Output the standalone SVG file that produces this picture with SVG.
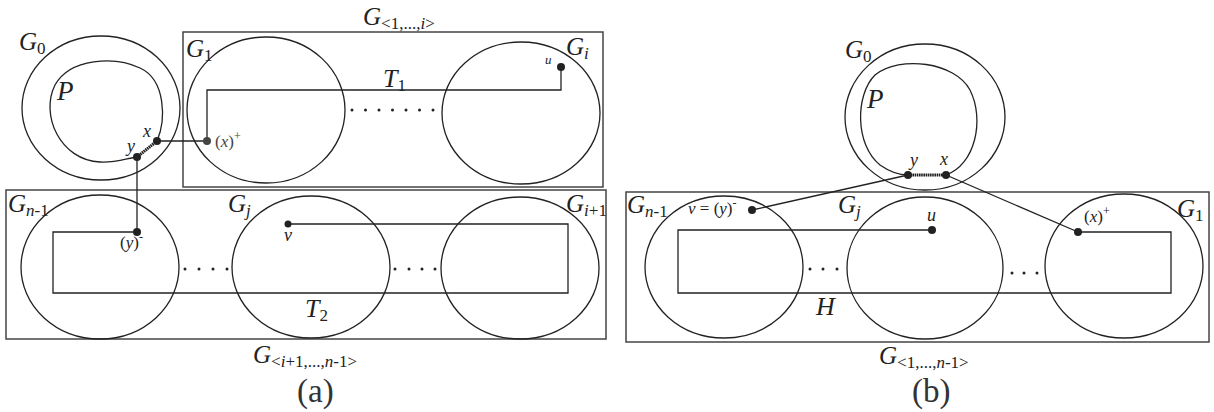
<svg xmlns="http://www.w3.org/2000/svg" width="1214" height="412" viewBox="0 0 1214 412">
<rect width="1214" height="412" fill="#fff"/>

<g id="nodes" fill="none" stroke="#222" stroke-width="1.3">
<!-- Panel (a) -->
<g id="a_box_top"><rect stroke="#444" stroke-width="1.5" x="183" y="32" width="420" height="155"/></g>
<g id="a_box_bottom"><rect stroke="#444" stroke-width="1.5" x="6" y="190" width="600" height="149"/></g>
<g id="a_G0"><ellipse cx="101" cy="108" rx="79" ry="72"/></g>
<g id="a_P"><path d="M157,141 C166,120 166,80 140,68 C115,56 70,58 55,85 C40,115 60,160 100,162 C115,163 128,158 137,157"/></g>
<g id="a_G1"><ellipse cx="266" cy="110" rx="79" ry="73"/></g>
<g id="a_Gi"><ellipse cx="521" cy="113" rx="79" ry="71"/></g>
<g id="a_Gn1"><ellipse cx="100" cy="267" rx="79" ry="72"/></g>
<g id="a_Gj"><ellipse cx="311" cy="267" rx="79" ry="71"/></g>
<g id="a_Gi1"><ellipse cx="520" cy="268" rx="79" ry="71"/></g>
<!-- Panel (b) -->
<g id="b_box"><rect stroke="#444" stroke-width="1.5" x="626" y="192" width="583" height="150"/></g>
<g id="b_G0"><ellipse cx="925" cy="117" rx="80" ry="73"/></g>
<g id="b_P"><path d="M946,175 C975,165 985,120 970,90 C955,62 900,55 875,75 C855,95 855,145 880,165 C890,172 900,175 908,175"/></g>
<g id="b_Gn1"><ellipse cx="724" cy="267" rx="79" ry="71"/></g>
<g id="b_Gj"><ellipse cx="925" cy="268" rx="78" ry="71"/></g>
<g id="b_G1"><ellipse cx="1124" cy="266" rx="79" ry="72"/></g>
</g>

<!-- Connectors -->
<g id="connectors" fill="none" stroke="#222" stroke-width="1.3">
<line x1="157" y1="141" x2="207" y2="141"/>
<line x1="137" y1="157" x2="137" y2="232"/>
<path d="M207,141 V90 H561 V67"/>
<path d="M137,232 H53 V293 H568 V224 H288"/>
<line stroke-width="3" stroke-dasharray="1.6 0.6" x1="157" y1="141" x2="137" y2="157"/>
<line x1="752" y1="210" x2="908" y2="175"/>
<line x1="946" y1="175" x2="1078" y2="232"/>
<path d="M932,230 H678 V293 H1171 V232 H1078"/>
<line stroke-width="3" stroke-dasharray="1.6 0.6" x1="908" y1="175" x2="946" y2="175"/>
</g>

<!-- Vertices -->
<g id="vertices" fill="#222">
<circle cx="157" cy="141" r="4"/>
<circle cx="137" cy="157" r="4"/>
<circle cx="207" cy="141" r="4" fill="#444"/>
<circle cx="561" cy="67" r="4"/>
<circle cx="137" cy="232" r="4"/>
<circle cx="288" cy="224" r="3.5"/>
<circle cx="908" cy="175" r="4"/>
<circle cx="946" cy="175" r="4"/>
<circle cx="752" cy="210" r="4"/>
<circle cx="932" cy="230" r="4"/>
<circle cx="1078" cy="232" r="4"/>
</g>

<!-- ellipsis dots -->
<g id="ellipses" fill="#222">
<circle cx="352" cy="110" r="1.5"/><circle cx="365.5" cy="110" r="1.5"/><circle cx="379" cy="110" r="1.5"/><circle cx="392.5" cy="110" r="1.5"/><circle cx="406" cy="110" r="1.5"/><circle cx="419.5" cy="110" r="1.5"/><circle cx="433" cy="110" r="1.5"/>
<circle cx="185" cy="269" r="1.5"/><circle cx="199" cy="269" r="1.5"/><circle cx="213" cy="269" r="1.5"/><circle cx="227" cy="269" r="1.5"/>
<circle cx="395" cy="269" r="1.5"/><circle cx="409" cy="269" r="1.5"/><circle cx="422" cy="269" r="1.5"/><circle cx="435" cy="269" r="1.5"/>
<circle cx="810" cy="269" r="1.5"/><circle cx="823" cy="269" r="1.5"/><circle cx="837" cy="269" r="1.5"/>
<circle cx="1012" cy="273" r="1.5"/><circle cx="1024" cy="273" r="1.5"/><circle cx="1037" cy="273" r="1.5"/>
</g>

<!-- labels -->
<g id="labels" fill="#222" font-family="Times New Roman">
<text style="font-family:'Times New Roman','Liberation Serif',serif" font-size="25" font-style="italic" x="363" y="25">G<tspan font-size="17" font-style="normal" dy="4">&lt;1,...,</tspan><tspan font-size="17">i</tspan><tspan font-size="17" font-style="normal">&gt;</tspan></text>
<text style="font-family:'Times New Roman','Liberation Serif',serif" font-size="25" font-style="italic" x="253" y="363">G<tspan font-size="17" font-style="normal" dy="4">&lt;</tspan><tspan font-size="17">i</tspan><tspan font-size="17" font-style="normal">+1,...,</tspan><tspan font-size="17">n</tspan><tspan font-size="17" font-style="normal">-1&gt;</tspan></text>
<text style="font-family:'Times New Roman','Liberation Serif',serif" font-size="25" font-style="italic" x="19" y="50">G<tspan font-size="17" font-style="normal" dy="4">0</tspan></text>
<text style="font-family:'Times New Roman','Liberation Serif',serif" font-size="27" font-style="italic" x="57" y="100">P</text>
<text style="font-family:'Times New Roman','Liberation Serif',serif" font-size="25" font-style="italic" x="186" y="57">G<tspan font-size="17" font-style="normal" dy="4">1</tspan></text>
<text style="font-family:'Times New Roman','Liberation Serif',serif" font-size="25" font-style="italic" x="566" y="55">G<tspan font-size="17" dy="4">i</tspan></text>
<text style="font-family:'Times New Roman','Liberation Serif',serif" font-size="25" font-style="italic" x="8" y="212">G<tspan font-size="17" dy="4">n</tspan><tspan font-size="17" font-style="normal">-1</tspan></text>
<text style="font-family:'Times New Roman','Liberation Serif',serif" font-size="25" font-style="italic" x="228" y="212">G<tspan font-size="17" dy="4">j</tspan></text>
<text style="font-family:'Times New Roman','Liberation Serif',serif" font-size="25" font-style="italic" x="566" y="212">G<tspan font-size="17" dy="4">i</tspan><tspan font-size="17" font-style="normal">+1</tspan></text>
<text style="font-family:'Times New Roman','Liberation Serif',serif" font-size="18" font-style="italic" x="143" y="137">x</text>
<text style="font-family:'Times New Roman','Liberation Serif',serif" font-size="18" font-style="italic" x="127" y="152">y</text>
<text style="font-family:'Times New Roman','Liberation Serif',serif" font-size="17" fill="#444" x="215" y="147">(<tspan font-style="italic">x</tspan>)<tspan dy="-7" font-size="12">+</tspan></text>
<text style="font-family:'Times New Roman','Liberation Serif',serif" font-size="13" font-style="italic" x="545" y="64">u</text>
<text style="font-family:'Times New Roman','Liberation Serif',serif" font-size="26" font-style="italic" x="383" y="87">T<tspan font-size="17" font-style="normal" dy="4">1</tspan></text>
<text style="font-family:'Times New Roman','Liberation Serif',serif" font-size="17" x="120" y="248">(<tspan font-style="italic">y</tspan>)<tspan dy="-7" font-size="12">-</tspan></text>
<text style="font-family:'Times New Roman','Liberation Serif',serif" font-size="18" font-style="italic" x="284" y="241">v</text>
<text style="font-family:'Times New Roman','Liberation Serif',serif" font-size="26" font-style="italic" x="305" y="317">T<tspan font-size="17" font-style="normal" dy="4">2</tspan></text>
<text style="font-family:'Times New Roman','Liberation Serif',serif" font-size="33" fill="#333" x="297" y="402">(a)</text>

<text style="font-family:'Times New Roman','Liberation Serif',serif" font-size="25" font-style="italic" x="879" y="364">G<tspan font-size="17" font-style="normal" dy="4">&lt;1,...,</tspan><tspan font-size="17">n</tspan><tspan font-size="17" font-style="normal">-1&gt;</tspan></text>
<text style="font-family:'Times New Roman','Liberation Serif',serif" font-size="25" font-style="italic" x="845" y="58">G<tspan font-size="17" font-style="normal" dy="4">0</tspan></text>
<text style="font-family:'Times New Roman','Liberation Serif',serif" font-size="27" font-style="italic" x="867" y="108">P</text>
<text style="font-family:'Times New Roman','Liberation Serif',serif" font-size="25" font-style="italic" x="627" y="213">G<tspan font-size="17" dy="4">n</tspan><tspan font-size="17" font-style="normal">-1</tspan></text>
<text style="font-family:'Times New Roman','Liberation Serif',serif" font-size="25" font-style="italic" x="838" y="213">G<tspan font-size="17" dy="4">j</tspan></text>
<text style="font-family:'Times New Roman','Liberation Serif',serif" font-size="25" font-style="italic" x="1177" y="217">G<tspan font-size="17" font-style="normal" dy="4">1</tspan></text>
<text style="font-family:'Times New Roman','Liberation Serif',serif" font-size="18" font-style="italic" x="910" y="166">y</text>
<text style="font-family:'Times New Roman','Liberation Serif',serif" font-size="18" font-style="italic" x="940" y="165">x</text>
<text style="font-family:'Times New Roman','Liberation Serif',serif" font-size="17" x="688" y="214"><tspan font-style="italic">v</tspan> = (<tspan font-style="italic">y</tspan>)<tspan dy="-7" font-size="12">-</tspan></text>
<text style="font-family:'Times New Roman','Liberation Serif',serif" font-size="18" font-style="italic" x="927" y="221">u</text>
<text style="font-family:'Times New Roman','Liberation Serif',serif" font-size="17" x="1084" y="222">(<tspan font-style="italic">x</tspan>)<tspan dy="-7" font-size="12">+</tspan></text>
<text style="font-family:'Times New Roman','Liberation Serif',serif" font-size="26" font-style="italic" x="816" y="315">H</text>
<text style="font-family:'Times New Roman','Liberation Serif',serif" font-size="33" fill="#333" x="912" y="402">(b)</text>
</g>
</svg>
